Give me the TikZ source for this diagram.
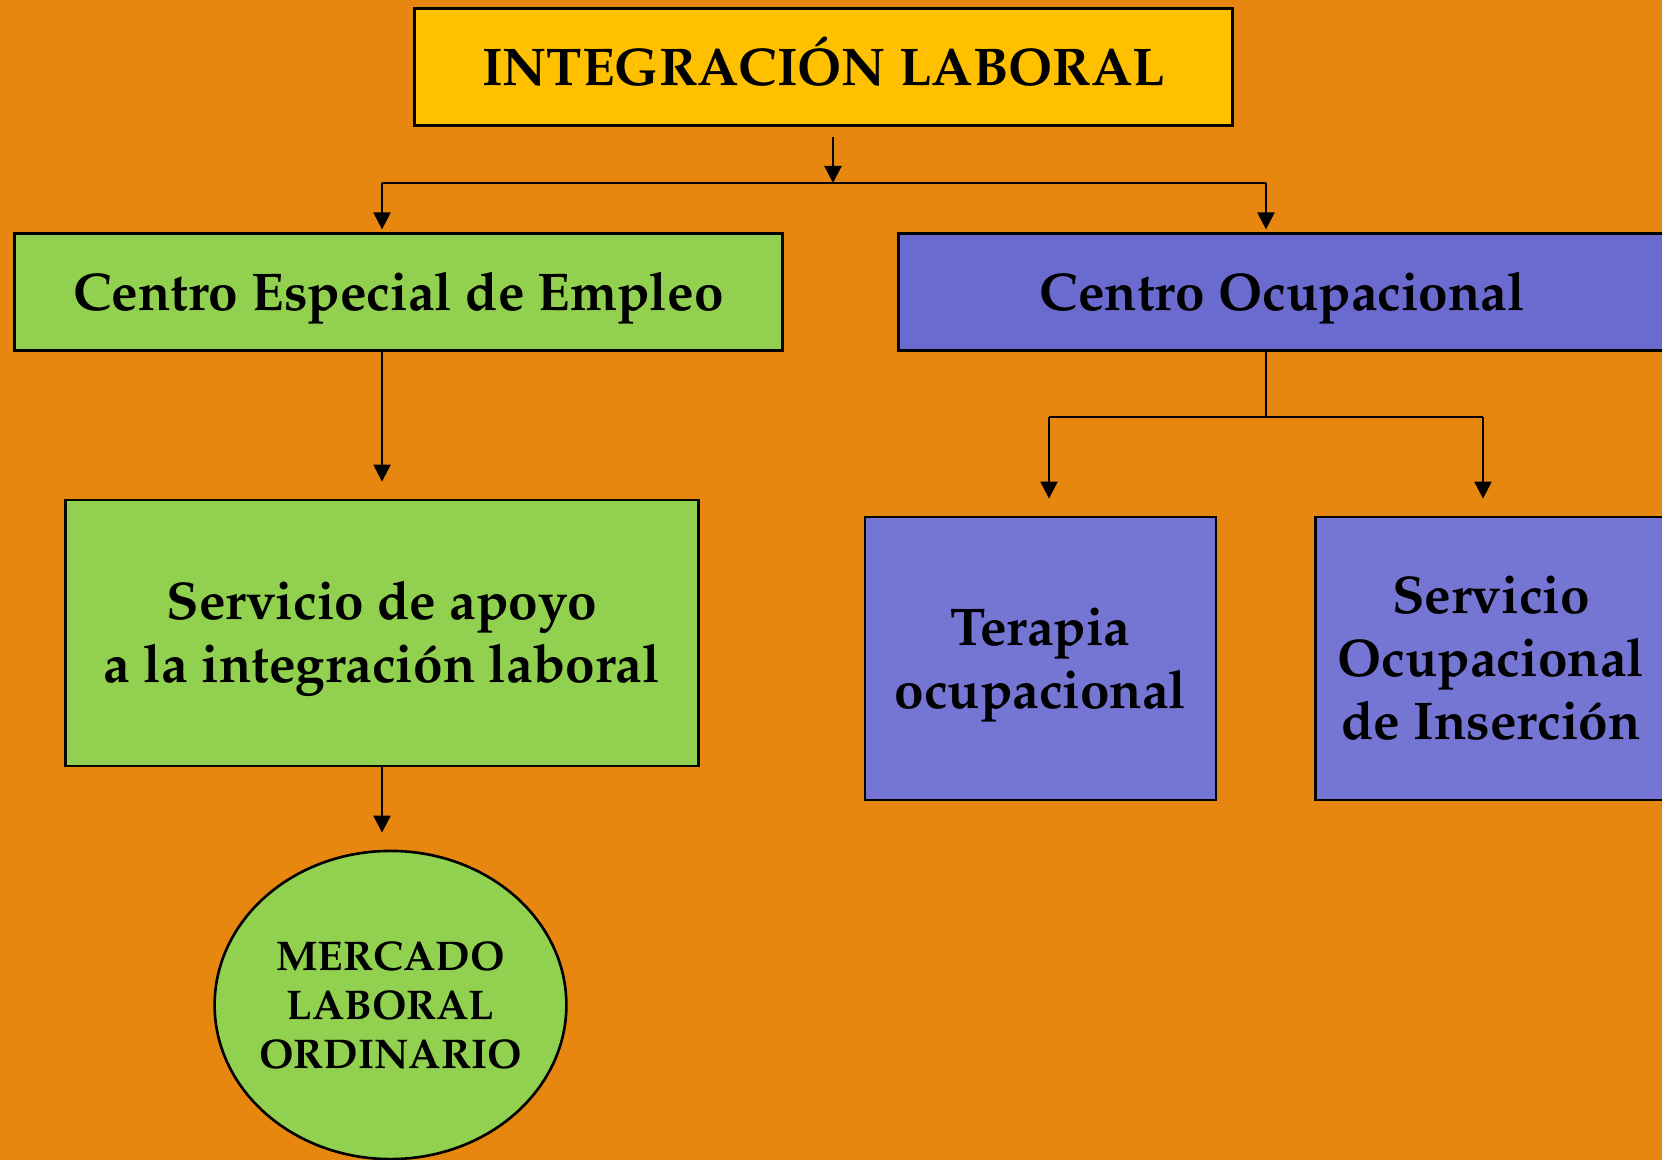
\documentclass[tikz,border=0pt]{standalone}
\usepackage[T1]{fontenc}
\usepackage{mathpazo}
\usetikzlibrary{
  arrows.meta,
  positioning,     % Function "of"
  shapes.geometric % Shape "ellipse"
}
\definecolor{bgorange}{RGB}{232,135,16}
\definecolor{boxyellow}{RGB}{255,192,0}
\definecolor{boxgreen}{RGB}{146,208,80}
\definecolor{boxblue}{RGB}{107,107,207}
\definecolor{boxlilac}{RGB}{117,117,211}
\def\mygap{1.7mm}
\def\mycap{10.4pt}
\def\myskip{17.9pt}
\tikzset{
  semithick,
  >={Triangle[length=1.7mm,width=1.7mm]},
  link/.style={
    line width=0.6pt
  },
  to box/.style={
    link,
    ->,
    shorten >=\mygap
  },
  my box/.style={
    draw,
    line width=0.75pt,
    rectangle,
    inner sep=0mm,
    align=center,
    text depth=0pt,
    text height=\mycap,
    font=\bfseries\fontsize{15.1}{\myskip}\selectfont
  },
  two lines/.style={
    text height=\mycap+\myskip
  },
  three lines/.style={
    text height=\mycap+2*\myskip
  },
  my oval/.style={
    my box,
    ellipse,
    inner xsep=-0.7mm,
    text height=8.1pt+2*13.9pt,
    font=\bfseries\fontsize{11.8}{13.9}\selectfont
  },
  wide box/.style={
    my box,
    minimum width=7.67cm,
    minimum height=1.165cm
  },
  tall box/.style={
    my box,
    minimum width=3.51cm,
    minimum height=2.83cm,
    fill=boxlilac
  }
}

\begin{document}
\begin{tikzpicture}[x=0.01cm,y=-0.01cm]
\fill[bgorange] (0,0) rectangle (1662,1160);
\clip (0,0) rectangle (1662,1160);
\useasboundingbox (0,0) rectangle (1662,1160);

\node[my box,fill=boxyellow,minimum width=8.17cm,minimum height=1.165cm]
  (integ) at (823.5,67) {INTEGRACI\'ON LABORAL};
\node[wide box,fill=boxgreen] (cee) at (398.5,292) {Centro Especial de Empleo};
\node[wide box,fill=boxblue] (co) at (1282.5,292) {Centro Ocupacional};
\node[my box,two lines,fill=boxgreen,minimum width=6.33cm,minimum height=2.66cm]
  (apoyo) at (382,633) {Servicio de apoyo\\a la integraci\'on laboral};
\node[tall box,two lines] (terapia) at (1040.5,658.5) {Terapia\\ocupacional};
\node[tall box,three lines] (soi) at (1491,658.5) {Servicio\\Ocupacional\\de Inserci\'on};
\node[my oval,fill=boxgreen,minimum width=3.51cm,minimum height=3.08cm]
  (mercado) at (390.5,1005) {MERCADO\\LABORAL\\ORDINARIO};

% branching points
\coordinate (top) at (833,183);
\coordinate (topl) at (382,183);
\coordinate (topr) at (1266,183);
\coordinate (sub) at (1266,417);
\coordinate (subl) at (1049,417);
\coordinate (subr) at (1483,417);

\draw[link,->,shorten <=1mm] (integ.south -| top) -- (top);
\draw[link] (topl) -- (topr);
\draw[link,->,shorten >=0.3mm] (topl) -- (topl |- cee.north);
\draw[link,->,shorten >=0.3mm] (topr) -- (topr |- co.north);

\draw[to box] (cee.south -| apoyo) -- (apoyo.north);
\draw[to box] (apoyo.south) -- (apoyo.south |- mercado.north);

\draw[link] (co.south -| sub) -- (sub);
\draw[link] (subl) -- (subr);
\draw[to box] (subl) -- (subl |- terapia.north);
\draw[to box] (subr) -- (subr |- soi.north);
\end{tikzpicture}
\end{document}
